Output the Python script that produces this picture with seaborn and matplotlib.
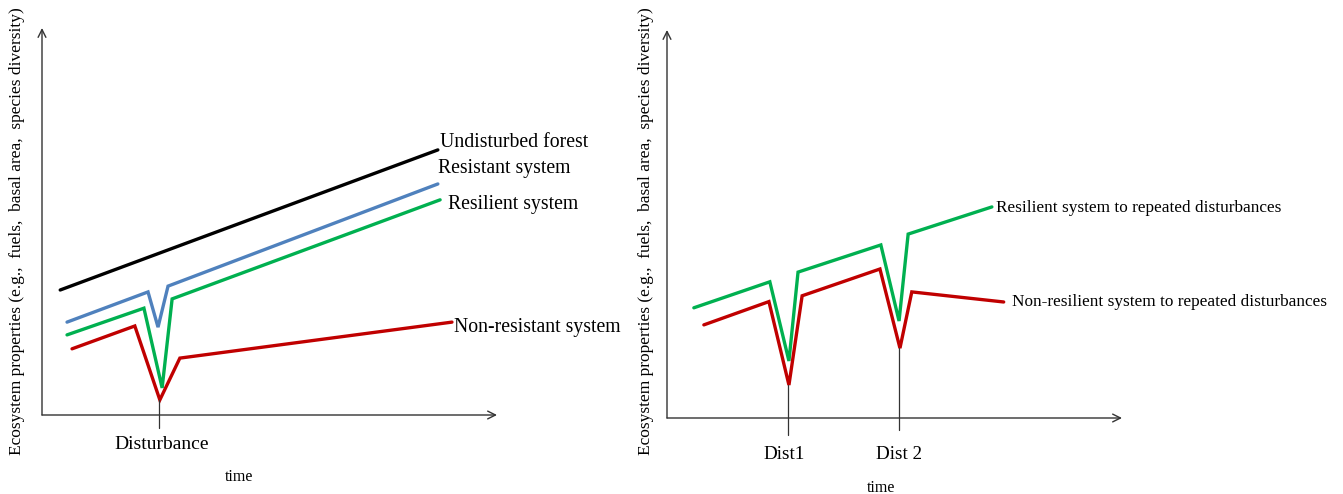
import matplotlib
matplotlib.use("Agg")
import matplotlib.pyplot as plt
import seaborn as sns

sns.set_style("white")
plt.rcParams['font.family'] = ['Liberation Serif', 'DejaVu Serif']
plt.rcParams['text.color'] = 'black'

# ---- data (time 0-100, property 0-100) ----
# Left panel
undist_t = [4.0, 28.5, 87.0]
undist_v = [32.3, 43.0, 68.5]
resist_t = [5.5, 23.3, 25.5, 27.7, 87.0]
resist_v = [24.0, 31.8, 22.7, 33.3, 59.7]
resil_t = [5.5, 22.4, 26.4, 28.6, 87.5]
resil_v = [20.7, 27.6, 7.0, 30.0, 55.6]
nonres_t = [6.6, 20.4, 25.9, 30.3, 90.1]
nonres_v = [17.1, 23.0, 3.9, 14.7, 24.0]
disturbance_t = 25.7
# Right panel
rep_resil_t = [5.9, 22.6, 26.8, 28.8, 47.0, 51.0, 53.0, 71.4]
rep_resil_v = [28.4, 35.1, 14.7, 37.6, 44.6, 25.0, 47.4, 54.4]
rep_nonres_t = [8.1, 22.4, 26.8, 29.7, 46.8, 51.2, 53.8, 74.0]
rep_nonres_v = [24.0, 30.0, 8.5, 31.5, 38.4, 18.0, 32.5, 29.9]
dist_t = [26.6, 51.0]
dist_labels = ["Dist1", "Dist 2"]

left_labels = ["Undisturbed forest", "Resistant system", "Resilient system", "Non-resistant system"]
right_labels = ["Resilient system to repeated disturbances",
                "Non-resilient system to repeated disturbances"]
ylabel = "Ecosystem properties (e.g.,  fuels,  basal area,  species diversity)"

BLACK = "#000000"
BLUE = "#4f81bd"
GREEN = "#00b050"
RED = "#c00000"
AXC = "#333333"

W, H = 1343, 494
fig = plt.figure(figsize=(W / 100, H / 100), dpi=100)

def make_ax(x0, y_bottom, x1, y_top):
    ax = fig.add_axes([x0 / W, (H - y_bottom) / H, (x1 - x0) / W, (y_bottom - y_top) / H])
    ax.set_xlim(0, 100)
    ax.set_ylim(0, 100)
    for s in ax.spines.values():
        s.set_visible(False)
    ax.set_xticks([])
    ax.set_yticks([])
    ax.patch.set_alpha(0)
    ax.annotate("", xy=(0, 1), xytext=(0, 0), xycoords="axes fraction",
                arrowprops=dict(arrowstyle="->", color=AXC, lw=1.0, mutation_scale=14,
                                shrinkA=0, shrinkB=0))
    ax.annotate("", xy=(1, 0), xytext=(0, 0), xycoords="axes fraction",
                arrowprops=dict(arrowstyle="->", color=AXC, lw=1.0, mutation_scale=14,
                                shrinkA=0, shrinkB=0))
    return ax

axL = make_ax(42, 415, 497, 28)
axR = make_ax(667, 418, 1122, 30)

LW = 2.4
def line(ax, t, v, c):
    sns.lineplot(x=t, y=v, ax=ax, color=c, linewidth=LW, sort=False, estimator=None,
                 solid_joinstyle="miter")

line(axL, undist_t, undist_v, BLACK)
line(axL, resist_t, resist_v, BLUE)
line(axL, resil_t, resil_v, GREEN)
line(axL, nonres_t, nonres_v, RED)

line(axR, rep_resil_t, rep_resil_v, GREEN)
line(axR, rep_nonres_t, rep_nonres_v, RED)

# disturbance markers
axL.plot([disturbance_t, disturbance_t], [min(nonres_v), -3.4], color=AXC, lw=0.9, clip_on=False)
axL.text(26.2, -7.6, "Disturbance", ha="center", va="center", fontsize=14)
axL.text(43.3, -16.0, "time", ha="center", va="center", fontsize=11.5)

dips = [8.5, 18.0]
ends = [-4.4, -3.1]
for t, d, e, lab in zip(dist_t, dips, ends, dist_labels):
    axR.plot([t, t], [d, e], color=AXC, lw=0.9, clip_on=False)
    axR.text(t - 0.8 if lab == "Dist1" else t, -9.4, lab, ha="center", va="center", fontsize=13.8)
axR.text(47.0, -18.0, "time", ha="center", va="center", fontsize=11.5)

# series labels
lpos = [(87.5, 70.5), (87.0, 63.8), (89.2, 54.5), (90.5, 22.7)]
for (x, y), lab in zip(lpos, left_labels):
    axL.text(x, y, lab, ha="left", va="center", fontsize=14.2, clip_on=False)
rpos = [(72.3, 54.1), (75.8, 29.9)]
for (x, y), lab in zip(rpos, right_labels):
    axR.text(x, y, lab, ha="left", va="center", fontsize=12.4, clip_on=False)

fig.text(17 / W, 1 - 231 / H, ylabel, rotation=90, ha="center", va="center", fontsize=12.5)
fig.text(646 / W, 1 - 231 / H, ylabel, rotation=90, ha="center", va="center", fontsize=12.5)

fig.savefig("out.png", dpi=100, facecolor="white")
